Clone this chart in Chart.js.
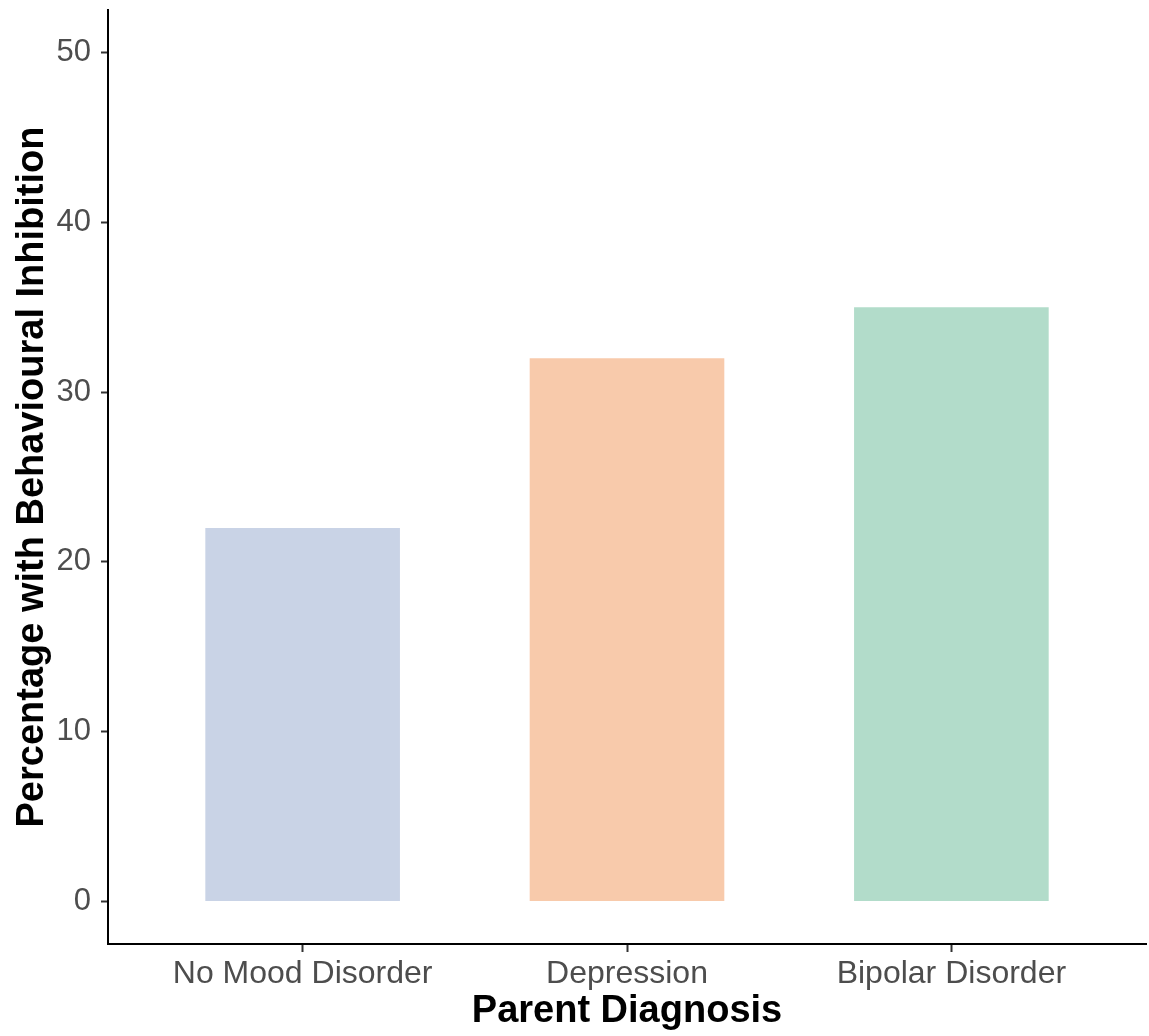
<!DOCTYPE html>
<html>
<head>
<meta charset="utf-8">
<script src="https://cdn.jsdelivr.net/npm/chart.js@4/dist/chart.umd.min.js"></script>
<style>
html,body{margin:0;padding:0;background:#fff;}
#wrap{width:1149px;height:1036px;}
</style>
</head>
<body>
<div id="wrap"><canvas id="c" width="1149" height="1036"></canvas></div>
<script>
const categories = ["No Mood Disorder", "Depression", "Bipolar Disorder"];
const positions = [1, 2, 3];
const values = [22, 32, 35];
const barColors = ["#c9d3e6", "#f8caab", "#b2dcca"];
const yTickValues = [0, 10, 20, 30, 40, 50];
const xTitle = "Parent Diagnosis";
const yTitle = "Percentage with Behavioural Inhibition";

const FONT = "'Liberation Sans', Arial, Helvetica, sans-serif";

new Chart(document.getElementById('c'), {
  type: 'bar',
  data: {
    datasets: [{
      data: positions.map((p, i) => ({x: p, y: values[i]})),
      backgroundColor: barColors,
      borderWidth: 0,
      categoryPercentage: 0.6,
      barPercentage: 1.0
    }]
  },
  options: {
    responsive: false,
    animation: false,
    devicePixelRatio: 1,
    layout: {padding: {top: 10, right: 3, left: 0, bottom: 0}},
    plugins: {legend: {display: false}, tooltip: {enabled: false}},
    scales: {
      x: {
        type: 'linear',
        offset: false,
        min: 0.4,
        max: 3.6,
        afterBuildTicks: s => { s.ticks = positions.map(v => ({value: v})); },
        afterFit: s => { s.height = 92; s.paddingLeft = 0; s.paddingRight = 0; },
        border: {display: true, color: '#000', width: 2},
        grid: {display: true, offset: false, drawOnChartArea: false, drawTicks: true, tickLength: 8, color: '#333', tickWidth: 2},
        ticks: {
          autoSkip: false,
          maxRotation: 0,
          padding: 3,
          color: '#4d4d4d',
          font: {family: FONT, size: 32},
          callback: v => categories[positions.indexOf(v)] ?? ''
        },
        title: {
          display: true,
          text: xTitle,
          color: '#000',
          font: {family: FONT, size: 38, weight: 'bold'},
          padding: {top: 0, bottom: 2}
        }
      },
      y: {
        type: 'linear',
        min: -2.5,
        max: 52.5,
        afterBuildTicks: s => { s.ticks = yTickValues.map(v => ({value: v})); },
        afterFit: s => { s.width = 108; s.paddingTop = 0; s.paddingBottom = 0; },
        border: {display: true, color: '#000', width: 2},
        grid: {display: true, drawOnChartArea: false, drawTicks: true, tickLength: 7, color: '#333', tickWidth: 2},
        ticks: {
          padding: 10,
          color: '#4d4d4d',
          font: {family: FONT, size: 31}
        },
        title: {
          display: true,
          text: yTitle,
          color: '#000',
          font: {family: FONT, size: 38, weight: 'bold'},
          padding: {top: 10, bottom: 0}
        }
      }
    }
  }
});
</script>
</body>
</html>
